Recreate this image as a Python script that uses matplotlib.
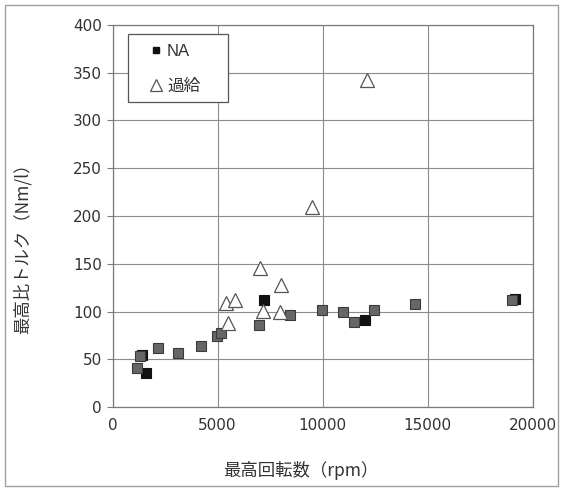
import matplotlib
matplotlib.use("Agg")
import matplotlib.pyplot as plt
from matplotlib.patches import Rectangle
from matplotlib.lines import Line2D

plt.rcParams['font.family'] = ['Liberation Sans', 'Noto Sans CJK JP', 'DejaVu Sans']

# Naturally aspirated engines (black markers)
na_rpm = [1600, 1420, 7230, 12040, 19150]
na_torque = [36, 54, 112, 91, 113]

# Naturally aspirated engines, grey-shaded markers
na2_rpm = [1150, 1300, 2180, 3130, 4210, 4960, 5150, 6990, 8450,
           9990, 10990, 11500, 12470, 14390, 19010]
na2_torque = [41, 53, 62, 57, 64, 74, 77, 86, 96,
              102, 100, 89, 102, 108, 112]

# Supercharged / turbocharged engines
sc_rpm = [5400, 5830, 5510, 7020, 7180, 7980, 8010, 9520, 12100]
sc_torque = [109, 112, 88, 146, 101, 100, 128, 209, 342]

x_ticks = [0, 5000, 10000, 15000, 20000]
y_ticks = [0, 50, 100, 150, 200, 250, 300, 350, 400]

W, H = 564, 490
fig = plt.figure(figsize=(W / 100, H / 100), dpi=100)
ax = fig.add_axes([112.5 / W, (H - 407) / H, 420 / W, 382 / H])

# outer frame around the whole chart
fig.patches.append(Rectangle((5 / W, 4 / H), 553 / W, 481 / H,
                             transform=fig.transFigure, fill=False,
                             edgecolor='#a0a0a0', linewidth=1.0))

ax.set_xlim(0, 20000)
ax.set_ylim(0, 400)
ax.set_xticks(x_ticks)
ax.set_yticks(y_ticks)
ax.grid(True, color='#8c8c8c', linewidth=0.8)
ax.set_axisbelow(True)
for s in ax.spines.values():
    s.set_color('#7a7a7a')
    s.set_linewidth(0.9)
ax.tick_params(axis='both', labelsize=11, labelcolor='#333333',
               color='#7a7a7a', length=4, width=0.8)
ax.tick_params(axis='x', length=0, pad=8)
for lbl in ax.get_xticklabels() + ax.get_yticklabels():
    lbl.set_family('DejaVu Sans')

ax.plot(na_rpm, na_torque, linestyle='none', marker='s', ms=6.5,
        mfc='#111111', mec='#111111', mew=0.8)
ax.plot(na2_rpm, na2_torque, linestyle='none', marker='s', ms=6.5,
        mfc='#666666', mec='#3a3a3a', mew=0.8)
ax.plot(sc_rpm, sc_torque, linestyle='none', marker='^', ms=9.5,
        mfc='white', mec='#555555', mew=0.9)

# legend box
ax.add_patch(Rectangle(((128 - 112.5) / 420, (407 - 102) / 382), 100 / 420, 68 / 382,
                       transform=ax.transAxes, facecolor='white',
                       edgecolor='#555555', linewidth=0.9, zorder=4.5))
handles = [
    Line2D([], [], linestyle='none', marker='s', ms=5, mfc='#111111', mec='#111111'),
    Line2D([], [], linestyle='none', marker='^', ms=8, mfc='white', mec='#555555', mew=0.9),
]
leg = ax.legend(handles, ['NA', '過給'], loc='upper left',
                bbox_to_anchor=((147.7 - 112.5) / 420, (407 - 44) / 382),
                borderaxespad=0, borderpad=0, frameon=False, fontsize=12,
                handlelength=1.0, handletextpad=0.16, labelspacing=1.15)
leg.set_zorder(5)
for t in leg.get_texts():
    t.set_color('#333333')

fig.text(301 / W, 1 - 470 / H, '最高回転数（rpm）', ha='center', va='center',
         fontsize=12.5, color='#333333', family=['Noto Sans CJK JP', 'DejaVu Sans'])
fig.text(22 / W, 1 - 244 / H, '最高比トルク（Nm/l）', ha='center', va='center',
         rotation=90, fontsize=12.5, color='#333333',
         family=['Noto Sans CJK JP', 'DejaVu Sans'])

fig.savefig('out.png', dpi=100)
